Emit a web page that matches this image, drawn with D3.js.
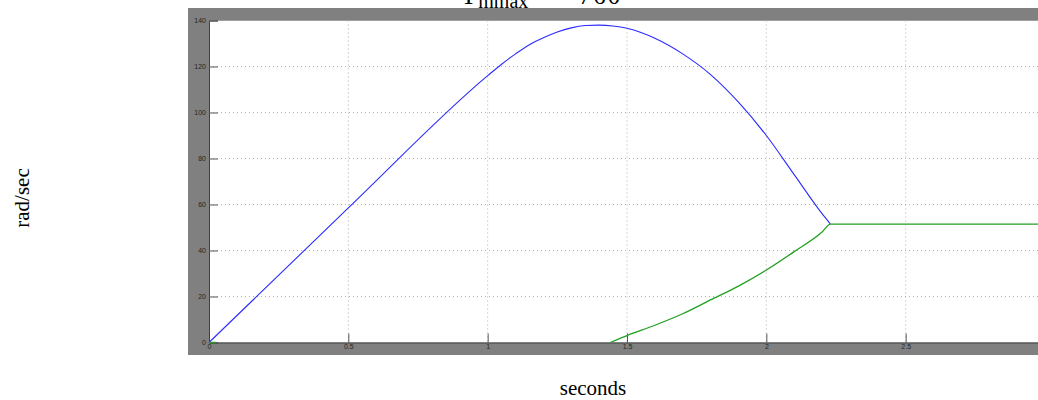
<!DOCTYPE html>
<html>
<head>
<meta charset="utf-8">
<script src="https://cdn.jsdelivr.net/npm/d3@7"></script>
<style>
  html, body { margin: 0; padding: 0; background: #fff; }
  svg { display: block; }
</style>
</head>
<body>
<svg id="chart" width="1038" height="400"></svg>
<script>
// Rotor speed (blue) and load speed (green), rad/sec vs time in seconds
const blueTime  = [0, 0.5, 1.0, 1.05, 1.1, 1.15, 1.2, 1.25, 1.3, 1.35, 1.4, 1.45, 1.5, 1.55, 1.6, 1.7, 1.8, 1.9, 2.0, 2.1, 2.2, 2.23];
const blueValue = [0, 58.5, 116, 121, 125.5, 129.5, 132.5, 135, 136.8, 137.8, 138, 137.6, 136.6, 134.8, 132.3, 125.5, 116.5, 104.5, 90, 73, 56, 51.5];

const greenTime  = [0, 0.025, null, 1.44, 1.5, 1.6, 1.7, 1.8, 1.9, 2.0, 2.1, 2.2, 2.23, 3.0];
const greenValue = [0, 0, null, 0, 3, 7.5, 12.5, 18.5, 24.5, 31.5, 39.5, 48, 51.5, 51.5];

const xTicks = [0, 0.5, 1, 1.5, 2, 2.5, 3];
const yTicks = [0, 20, 40, 60, 80, 100, 120, 140];

const svg = d3.select("#chart");

const plot = { left: 209, right: 1045, top: 20.5, bottom: 342.5 };

const x = d3.scaleLinear().domain([0, 3]).range([plot.left, plot.right]);
const y = d3.scaleLinear().domain([0, 140]).range([plot.bottom, plot.top]);

// grey scope frame
svg.append("rect")
  .attr("x", 188).attr("y", 8)
  .attr("width", 900).attr("height", 347)
  .attr("fill", "#808080");

// white plotting area
svg.append("rect")
  .attr("x", plot.left).attr("y", plot.top)
  .attr("width", plot.right - plot.left).attr("height", plot.bottom - plot.top)
  .attr("fill", "#fff");

svg.append("line")
  .attr("x1", plot.left).attr("x2", plot.right)
  .attr("y1", plot.top).attr("y2", plot.top)
  .attr("stroke", "#a0a0a0").attr("stroke-width", 1);

// dotted grid
const grid = svg.append("g");
grid.selectAll("line.gx")
  .data(xTicks.filter(d => d > 0 && d < 3))
  .join("line")
  .attr("x1", d => x(d)).attr("x2", d => x(d))
  .attr("y1", plot.top).attr("y2", plot.bottom)
  .attr("stroke", "#b0b0b0").attr("stroke-width", 1)
  .attr("stroke-dasharray", "1,3");
grid.selectAll("line.gy")
  .data(yTicks.filter(d => d > 0 && d < 140))
  .join("line")
  .attr("x1", plot.left).attr("x2", plot.right)
  .attr("y1", d => y(d)).attr("y2", d => y(d))
  .attr("stroke", "#b0b0b0").attr("stroke-width", 1)
  .attr("stroke-dasharray", "1,3");

// axes with inward ticks
const xAxis = d3.axisBottom(x).tickValues(xTicks).tickSize(-9).tickPadding(3)
  .tickFormat(d => d === 3 ? "" : d3.format("~g")(d));
const yAxis = d3.axisLeft(y).tickValues(yTicks).tickSize(-9).tickPadding(3);

const gx = svg.append("g").attr("transform", `translate(0,${plot.bottom})`).call(xAxis);
const gy = svg.append("g").attr("transform", `translate(${plot.left},0)`).call(yAxis);

[gx, gy].forEach(g => {
  g.select(".domain").attr("stroke", "#404040").attr("stroke-width", 1);
  g.selectAll(".tick line").attr("stroke", "#555").attr("stroke-width", 1);
  g.selectAll(".tick text")
    .attr("fill", "#262626")
    .attr("font-family", "Liberation Sans, Arial, sans-serif")
    .attr("font-size", 7);
});
gx.selectAll(".tick text").attr("dy", "0.5em");

// series
const line = d3.line()
  .defined(d => d[0] !== null)
  .curve(d3.curveMonotoneX)
  .x(d => x(d[0]))
  .y(d => y(d[1]));

const lines = svg.append("g");
lines.append("path")
  .datum(blueTime.map((t, i) => [t, blueValue[i]]))
  .attr("fill", "none").attr("stroke", "#2b2bff").attr("stroke-width", 1.1)
  .attr("d", line);
lines.append("path")
  .datum(greenTime.map((t, i) => [t, greenValue[i]]))
  .attr("fill", "none").attr("stroke", "#23a023").attr("stroke-width", 1.3)
  .attr("d", line);

// title (T_mmax), running off the top edge above the frame
const title = svg.append("text")
  .attr("x", 461).attr("y", 4)
  .attr("font-family", "Liberation Serif, Times New Roman, serif")
  .attr("font-size", 25)
  .attr("fill", "#000");
title.append("tspan").text("T");
title.append("tspan").attr("font-size", 20).attr("dy", 4).attr("dx", 2).text("mmax");
title.append("tspan").attr("dy", -4).attr("dx", 26).attr("letter-spacing", 2).text("= 760");

// axis titles
svg.append("text")
  .attr("transform", "translate(29,198) rotate(-90)")
  .attr("text-anchor", "middle")
  .attr("font-family", "Liberation Serif, Times New Roman, serif")
  .attr("font-size", 21)
  .attr("fill", "#000")
  .text("rad/sec");

svg.append("text")
  .attr("x", 593).attr("y", 395)
  .attr("text-anchor", "middle")
  .attr("font-family", "Liberation Serif, Times New Roman, serif")
  .attr("font-size", 21)
  .attr("fill", "#000")
  .text("seconds");
</script>
</body>
</html>
